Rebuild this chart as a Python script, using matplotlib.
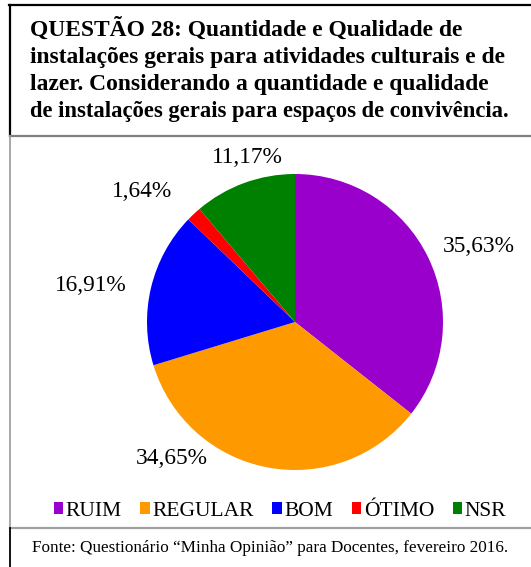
import matplotlib.pyplot as plt
from matplotlib.lines import Line2D

# ------------------------
# Data
# ------------------------
categories = ["RUIM", "REGULAR", "BOM", "ÓTIMO", "NSR"]
values = [35.63, 34.65, 16.91, 1.64, 11.17]
colors = ["#9900CC", "#FF9900", "#0000FF", "#FF0000", "#008000"]
value_labels = ["35,63%", "34,65%", "16,91%", "1,64%", "11,17%"]

title_lines = ["QUESTÃO 28: Quantidade e Qualidade de",
               "instalações gerais para atividades culturais e de",
               "lazer. Considerando a quantidade e qualidade",
               "de instalações gerais para espaços de convivência."]
source = "Fonte: Questionário “Minha Opinião” para Docentes, fevereiro 2016."

# label placement (in pie radius units, relative to center)
label_xy = [(1.24, 0.51), (-0.83, -0.92), (-1.38, 0.25), (-1.03, 0.88), (-0.32, 1.11)]

W, H = 531, 567
plt.rcParams["font.family"] = ["Liberation Serif", "DejaVu Serif"]
fig = plt.figure(figsize=(W / 100, H / 100), dpi=100)

def px(x, y):
    return x / W, 1 - y / H

def hline(x0, x1, y, color, lw=1.3):
    (a, b), (c, d) = px(x0, y), px(x1, y)
    fig.add_artist(Line2D([a, c], [b, d], color=color, lw=lw, transform=fig.transFigure))

def vline(x, y0, y1, color, lw=1.3):
    (a, b), (c, d) = px(x, y0), px(x, y1)
    fig.add_artist(Line2D([a, c], [b, d], color=color, lw=lw, transform=fig.transFigure))

# ------------------------
# Frames
# ------------------------
hline(9, W, 5, "black", 1.6)
vline(10, 5, 136, "black", 1.6)
hline(10, W, 136, "#808080", 1.6)
vline(10, 136, 528, "#A0A0A0", 1.3)
hline(10, W, 528, "#A0A0A0", 1.6)
vline(10, 528, H, "black", 1.3)

# ------------------------
# Title & source
# ------------------------
for i, line in enumerate(title_lines):
    tx, ty = px(30, 36 + 27 * i)
    fs = 16.3 if i == 3 else 16.9
    fig.text(tx, ty, line, ha="left", va="baseline", fontsize=fs, fontweight="bold")
sx, sy = px(270, 548)
fig.text(sx, sy, source, ha="center", va="center", fontsize=12.3)

# ------------------------
# Pie
# ------------------------
cx, cy, r = 295, 322, 148
ax = fig.add_axes([(cx - r) / W, (H - cy - r) / H, 2 * r / W, 2 * r / H])
wedges, _ = ax.pie(values, colors=colors, startangle=90, counterclock=False,
                   radius=1, wedgeprops=dict(linewidth=0))
ax.set_xlim(-1, 1)
ax.set_ylim(-1, 1)
ax.set_axis_off()
for (lx, ly), lab in zip(label_xy, value_labels):
    ax.text(lx, ly, lab, ha="center", va="center", fontsize=16.8)

# ------------------------
# Legend
# ------------------------
lx, ly = px(280, 511)
fig.legend(wedges, categories, loc="center", bbox_to_anchor=(lx, ly), ncol=5,
           frameon=False, fontsize=15.5, handlelength=0.45, handleheight=0.45,
           handletextpad=0.12, columnspacing=0.85, borderpad=0)

fig.savefig("out.png", dpi=100)
